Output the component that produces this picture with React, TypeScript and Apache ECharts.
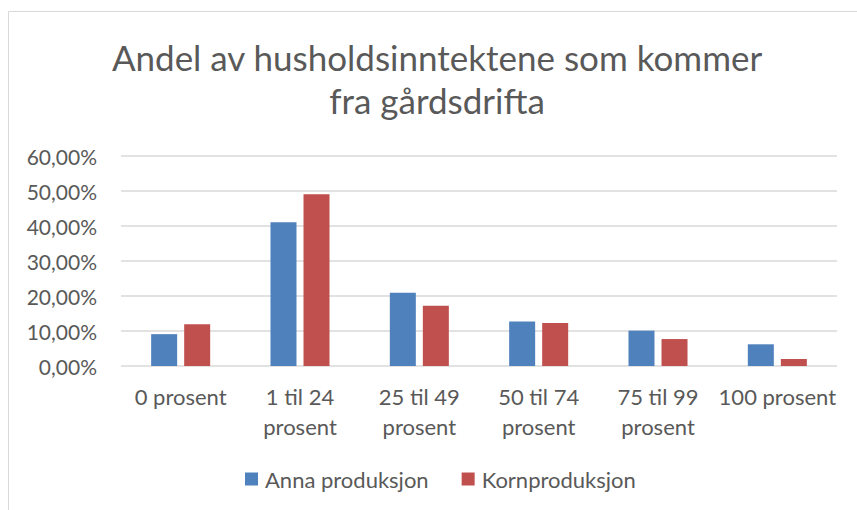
import React, { useEffect, useRef } from "react";
import * as echarts from "echarts";

const categories = ["0 prosent", "1 til 24\nprosent", "25 til 49\nprosent", "50 til 74\nprosent", "75 til 99\nprosent", "100 prosent"];
const annaProduksjon = [9.1, 41.1, 20.9, 12.7, 10.1, 6.2];
const kornProduksjon = [11.9, 49.1, 17.2, 12.3, 7.7, 2.0];
const titleLines = ["Andel av husholdsinntektene som kommer", "fra gårdsdrifta"];
const seriesNames = ["Anna produksjon", "Kornproduksjon"];

const FONT = "Lato, 'Noto Sans', sans-serif";
const TEXT = "#595959";

export default function App() {
  const ref = useRef<HTMLDivElement>(null);
  useEffect(() => {
    if (!ref.current) return;
    const chart = echarts.init(ref.current, undefined, { renderer: "svg" });
    chart.setOption({
      animation: false,
      backgroundColor: "#fff",
      textStyle: { fontFamily: FONT },
      graphic: [
        {
          type: "rect",
          shape: { x: 8.5, y: 11.5, width: 900, height: 600 },
          style: { fill: "none", stroke: "#D9D9D9", lineWidth: 1 },
          silent: true,
        },
        {
          type: "text",
          x: 437,
          y: 57,
          style: { text: titleLines[0], fontSize: 35, fontFamily: FONT, fill: TEXT, align: "center", verticalAlign: "middle" },
        },
        {
          type: "text",
          x: 437,
          y: 100,
          style: { text: titleLines[1], fontSize: 35, fontFamily: FONT, fill: TEXT, align: "center", verticalAlign: "middle" },
        },
      ],
      legend: {
        bottom: 15,
        left: 240,
        icon: "rect",
        itemWidth: 13,
        itemHeight: 13,
        itemGap: 33,
        textStyle: { fontSize: 22, color: TEXT, fontFamily: FONT, padding: [0, 0, 0, 2] },
        data: seriesNames,
      },
      grid: { left: 121, right: 20, top: 156, bottom: 144, containLabel: false },
      xAxis: {
        type: "category",
        data: categories,
        axisLine: { show: false },
        axisTick: { show: false },
        axisLabel: { color: TEXT, fontSize: 22, fontFamily: FONT, margin: 15, lineHeight: 30, interval: 0 },
      },
      yAxis: {
        type: "value",
        min: 0,
        max: 60,
        interval: 10,
        axisLine: { show: false },
        axisTick: { show: false },
        splitLine: { lineStyle: { color: "#D9D9D9", width: 1.5 } },
        axisLabel: {
          color: TEXT,
          fontSize: 21,
          fontFamily: FONT,
          margin: 24,
          formatter: (v: number) => v.toFixed(2).replace(".", ",") + "%",
        },
      },
      series: [
        {
          name: seriesNames[0],
          type: "bar",
          data: annaProduksjon,
          barWidth: 26,
          barGap: "27%",
          itemStyle: { color: "#4F81BD" },
        },
        {
          name: seriesNames[1],
          type: "bar",
          data: kornProduksjon,
          barWidth: 26,
          itemStyle: { color: "#C0504D" },
        },
      ],
    });
    return () => chart.dispose();
  }, []);
  return <div ref={ref} style={{ position: "fixed", left: 0, top: 0, width: 857, height: 510 }} />;
}
